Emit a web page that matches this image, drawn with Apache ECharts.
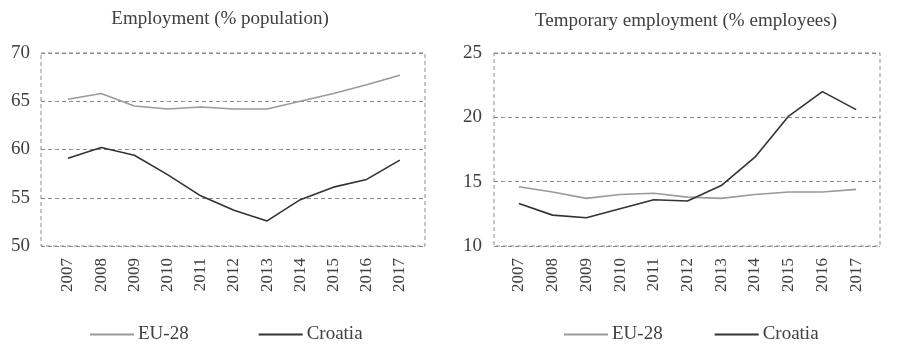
<!DOCTYPE html>
<html>
<head>
<meta charset="utf-8">
<script src="https://cdn.jsdelivr.net/npm/echarts@6/dist/echarts.min.js"></script>
<style>html,body{margin:0;padding:0;background:#fff;}#c{width:900px;height:352px;}</style>
</head>
<body>
<div id="c"></div>
<script>
var years = ['2007','2008','2009','2010','2011','2012','2013','2014','2015','2016','2017'];
var empEU = [65.2, 65.8, 64.5, 64.2, 64.4, 64.2, 64.2, 65.0, 65.8, 66.7, 67.7];
var empHR = [59.1, 60.2, 59.4, 57.4, 55.2, 53.7, 52.6, 54.8, 56.1, 56.9, 58.9];
var tmpEU = [14.6, 14.2, 13.7, 14.0, 14.1, 13.8, 13.7, 14.0, 14.2, 14.2, 14.4];
var tmpHR = [13.3, 12.4, 12.2, 12.9, 13.6, 13.5, 14.7, 16.9, 20.1, 22.0, 20.6];
var titles = ['Employment (% population)', 'Temporary employment (% employees)'];
var seriesNames = ['EU-28', 'Croatia'];

var FONT = 'Liberation Serif';
var TXT = '#404040';
var EU_COLOR = '#9a9a9a';
var HR_COLOR = '#333333';
var GRID_COLOR = '#8c8c8c';

var chart = echarts.init(document.getElementById('c'), null, {renderer: 'canvas'});

function frameGrid(left, width) {
  return {left: left, top: 53, width: width, height: 193, show: true,
    borderColor: GRID_COLOR, borderWidth: 1, borderType: [4, 3], backgroundColor: 'transparent', containLabel: false};
}
function dataGrid(left, width) {
  return {left: left, top: 53, width: width, height: 193, containLabel: false};
}
function hiddenX(gi) { return {type: 'category', gridIndex: gi, data: years, show: false}; }
function labelX(gi) {
  return {type: 'category', gridIndex: gi, data: years, boundaryGap: true,
    axisLine: {show: false}, axisTick: {show: false},
    axisLabel: {rotate: 90, margin: 12, fontFamily: FONT, fontSize: 17, color: TXT}};
}
function frameY(gi, min, max, margin) {
  return {type: 'value', gridIndex: gi, min: min, max: max, interval: 5,
    axisLine: {show: false}, axisTick: {show: false},
    axisLabel: {margin: margin, fontFamily: FONT, fontSize: 19, color: TXT},
    splitLine: {show: true, lineStyle: {color: GRID_COLOR, type: [4, 3], width: 1}}};
}
function hiddenY(gi, min, max) { return {type: 'value', gridIndex: gi, min: min, max: max, show: false, splitLine: {show: false}}; }
function line(name, gi, data, color) {
  return {name: name, type: 'line', xAxisIndex: gi, yAxisIndex: gi, data: data, symbol: 'none',
    lineStyle: {color: color, width: 1.6}, itemStyle: {color: color}, silent: true, animation: false};
}
function legend(left, gap) {
  return {left: left, top: 320, itemGap: gap, itemWidth: 44, itemHeight: 2, icon: 'rect', data: seriesNames,
    textStyle: {fontFamily: FONT, fontSize: 19, color: TXT, padding: [0, 0, 0, -1]}, selectedMode: false};
}

chart.setOption({
  animation: false,
  backgroundColor: '#ffffff',
  textStyle: {fontFamily: FONT},
  title: [
    {text: titles[0], left: 215, top: 5, textAlign: 'center', textStyle: {fontFamily: FONT, fontSize: 19, fontWeight: 'normal', color: TXT}},
    {text: titles[1], left: 681, top: 7, textAlign: 'center', textStyle: {fontFamily: FONT, fontSize: 19, fontWeight: 'normal', color: TXT}}
  ],
  legend: [legend(85, 70), legend(559, 52)],
  grid: [frameGrid(41, 384), dataGrid(51.4, 365), frameGrid(494, 386), dataGrid(502, 371)],
  xAxis: [hiddenX(0), labelX(1), hiddenX(2), labelX(3)],
  yAxis: [frameY(0, 50, 70, 11), hiddenY(1, 50, 70), frameY(2, 10, 25, 12), hiddenY(3, 10, 25)],
  series: [
    line(seriesNames[0], 1, empEU, EU_COLOR),
    line(seriesNames[1], 1, empHR, HR_COLOR),
    line(seriesNames[0], 3, tmpEU, EU_COLOR),
    line(seriesNames[1], 3, tmpHR, HR_COLOR)
  ]
});
</script>
</body>
</html>
